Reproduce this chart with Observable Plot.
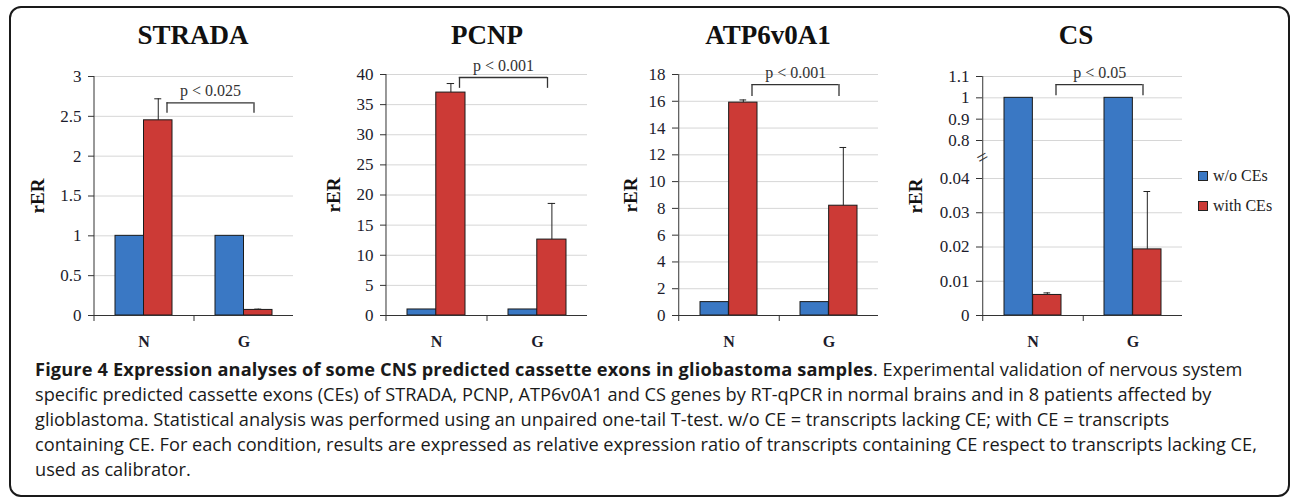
<!DOCTYPE html>
<html><head><meta charset="utf-8">
<script src="https://cdn.jsdelivr.net/npm/d3@7"></script>
<script src="https://cdn.jsdelivr.net/npm/@observablehq/plot@0.6"></script>
<style>
html,body{margin:0;padding:0;background:#fff;}
#page{position:relative;width:1290px;height:499px;overflow:hidden;}
#frame{position:absolute;left:9px;top:6px;width:1281px;height:491px;box-sizing:border-box;border:2px solid #1a1a1a;border-radius:12px;}
.panel{position:absolute;top:14px;height:338px;}
.ptitle{position:absolute;top:6px;height:38px;line-height:38px;font:bold 27px "Liberation Serif",serif;color:#111;transform:translateX(-50%);white-space:nowrap;}
.panel > svg{position:absolute;top:44px;left:0;max-width:none !important;}
#legend{position:absolute;left:1198px;top:161px;font:16px "Liberation Serif",serif;color:#222;}
.li{display:flex;align-items:center;height:30px;}
.sw{width:8px;height:8px;border:1px solid #222;margin-right:5px;}
#caption{position:absolute;left:35px;top:357px;font-family:"Open Sans",sans-serif;font-size:18.2px;line-height:25px;color:#1a1a1a;white-space:nowrap;}
#caption b{font-weight:700;letter-spacing:0.15px;}
</style></head><body>
<div id="page"><div id="frame"></div><div id="legend"></div><div id="caption"></div></div>
<script>
// ---- data ----
const genes = ["STRADA", "PCNP", "ATP6v0A1", "CS"];
const categories = ["N", "G"];
const seriesNames = ["w/o CEs", "with CEs"];
const withoutCE = [[1, 1], [1, 1], [1, 1], [1, 1]];
const withCE = [[2.45, 0.07], [37, 12.6], [15.9, 8.2], [0.006, 0.0193]];
const withCEerr = [[0.27, 0.01], [1.5, 6], [0.2, 4.35], [0.0006, 0.0169]];
const pLabels = ["p < 0.025", "p < 0.001", "p < 0.001", "p < 0.05"];
const bracketTop = [2.67, 39.5, 17.25, 1.062];
const bracketLeg = [2.54, 37.7, 16.36, 1.01];
const yDomains = [[0, 3], [0, 40], [0, 18], [0, 0.04, 0.8, 1.1]];
const yTicks = [
  [0, 0.5, 1, 1.5, 2, 2.5, 3],
  [0, 5, 10, 15, 20, 25, 30, 35, 40],
  [0, 2, 4, 6, 8, 10, 12, 14, 16, 18],
  [0, 0.01, 0.02, 0.03, 0.04, 0.8, 0.9, 1, 1.1]
];
const csBreak = [0.46];
const yLabel = "rER";
const captionBold = "Figure 4 Expression analyses of some CNS predicted cassette exons in gliobastoma samples";
const captionLines = [
  ". Experimental validation of nervous system",
  "specific predicted cassette exons (CEs) of STRADA, PCNP, ATP6v0A1 and CS genes by RT-qPCR in normal brains and in 8 patients affected by",
  "glioblastoma. Statistical analysis was performed using an unpaired one-tail T-test. w/o CE = transcripts lacking CE; with CE = transcripts",
  "containing CE. For each condition, results are expressed as relative expression ratio of transcripts containing CE respect to transcripts lacking CE,",
  "used as calibrator."
];
const colors = ["#3a78c4", "#cc3a36"];

// ---- layout ----
const axisLeft = [94, 386, 678, 982];
const plotRight = [293, 587, 878, 1182];
const plotTop = [76, 74, 74, 76];
const zeroY = 315;
const titleX = [193, 487, 768, 1076];
const labelX = [37, 333, 630, 915];
const csRange = [315, 178, 140, 76];
const svgTop = 58, svgBottom = 352;
const mL = 82, mR = 10;
const pIn = 0.43, pOut = 0.21;

const page = document.getElementById("page");

genes.forEach((gene, i) => {
  const W = plotRight[i] - axisLeft[i];
  const step = W / (2 - pIn + 2 * pOut);
  const bw = step * (1 - pIn);
  const rows = categories.map((c, j) => ({cat: c, wo: withoutCE[i][j], with: withCE[i][j], err: withCEerr[i][j]}));
  const yMax = yDomains[i][yDomains[i].length - 1];
  const yScale = i === 3
    ? {type: "linear", domain: yDomains[i], range: csRange.map(v => v - svgTop)}
    : {type: "linear", domain: yDomains[i]};

  const marks = [
    Plot.gridY(yTicks[i], {stroke: "#d6d6d6", strokeOpacity: 1}),
    Plot.barY(rows, {x: "cat", y: "wo", fill: colors[0], stroke: "#1a1a1a", strokeWidth: 1, insetRight: bw / 2}),
    Plot.barY(rows, {x: "cat", y: "with", fill: colors[1], stroke: "#1a1a1a", strokeWidth: 1, insetLeft: bw / 2}),
    Plot.ruleX(rows, {x: "cat", y1: "with", y2: d => d.with + d.err, dx: bw / 4, stroke: "#222"}),
    Plot.tickY(rows, {x: "cat", y: d => d.with + d.err, insetLeft: bw * 0.75 - 3.5, insetRight: bw * 0.25 - 3.5, stroke: "#222"}),
    Plot.ruleY([0], {stroke: "#333"}),
    Plot.ruleX([categories[0]], {x: d => d, y1: 0, y2: yMax, dx: -step / 2, insetTop: 6, stroke: "#333"}),
    Plot.ruleX([categories[0]], {x: d => d, y1: 0, y2: 0, dx: step / 2, insetTop: 6, stroke: "#333"}),
    Plot.ruleY([bracketTop[i]], {y: d => d, x1: () => categories[0], x2: () => categories[1], insetLeft: bw / 2 + 23, insetRight: bw / 2 - 10, stroke: "#333", strokeWidth: 1.3}),
    Plot.ruleX([categories[0]], {x: d => d, y1: bracketLeg[i], y2: bracketTop[i], dx: 23, stroke: "#333", strokeWidth: 1.3}),
    Plot.ruleX([categories[1]], {x: d => d, y1: bracketLeg[i], y2: bracketTop[i], dx: 10, stroke: "#333", strokeWidth: 1.3}),
    Plot.text([pLabels[i]], {x: () => categories[0], y: () => bracketTop[i], text: d => d, dx: step / 2 + 16.5, dy: -7, lineAnchor: "bottom", fontSize: 16, fill: "#333"}),
    Plot.axisY(yTicks[i], {tickSize: 6, tickPadding: 7, fontSize: 17, label: null, stroke: "#333", fill: "#1c1c2c", tickFormat: d => String(d)}),
    Plot.axisX({tickSize: 0, tickPadding: 20, fontSize: 16, fontWeight: "bold", label: null, fill: "#1c1c2c"}),
    Plot.text([yLabel], {frameAnchor: "left", textAnchor: "middle", text: d => d, dx: labelX[i] - axisLeft[i], rotate: -90, fontSize: 19, fontWeight: "bold", fill: "#111"})
  ];
  if (i === 3) {
    marks.push(Plot.text(csBreak, {y: d => d, frameAnchor: "left", textAnchor: "middle", text: () => "=", rotate: -30, fontSize: 20, fill: "#333"}));
  }

  const svg = Plot.plot({
    width: mL + W + mR,
    height: svgBottom - svgTop,
    marginLeft: mL, marginRight: mR,
    marginTop: plotTop[i] - svgTop,
    marginBottom: svgBottom - zeroY,
    style: {fontFamily: '"Liberation Serif", serif', fontSize: "16px", background: "transparent", overflow: "visible", color: "#222", maxWidth: "none"},
    x: {type: "band", domain: categories, paddingInner: pIn, paddingOuter: pOut, align: 0.5},
    y: yScale,
    marks
  });

  const panel = document.createElement("div");
  panel.className = "panel";
  const left = axisLeft[i] - mL;
  panel.style.left = left + "px";
  panel.style.width = (mL + W + mR) + "px";
  const t = document.createElement("div");
  t.className = "ptitle";
  t.textContent = gene;
  t.style.left = (titleX[i] - left) + "px";
  panel.appendChild(t);
  panel.appendChild(svg);
  page.appendChild(panel);
});

// legend
const legend = document.getElementById("legend");
seriesNames.forEach((s, k) => {
  const row = document.createElement("div");
  row.className = "li";
  const sw = document.createElement("span");
  sw.className = "sw";
  sw.style.background = colors[k];
  const tx = document.createElement("span");
  tx.textContent = s;
  row.appendChild(sw); row.appendChild(tx);
  legend.appendChild(row);
});

// caption
const cap = document.getElementById("caption");
captionLines.forEach((line, k) => {
  const div = document.createElement("div");
  if (k === 0) {
    const b = document.createElement("b");
    b.textContent = captionBold;
    div.appendChild(b);
  }
  div.appendChild(document.createTextNode(line));
  cap.appendChild(div);
});
</script>
</body></html>
